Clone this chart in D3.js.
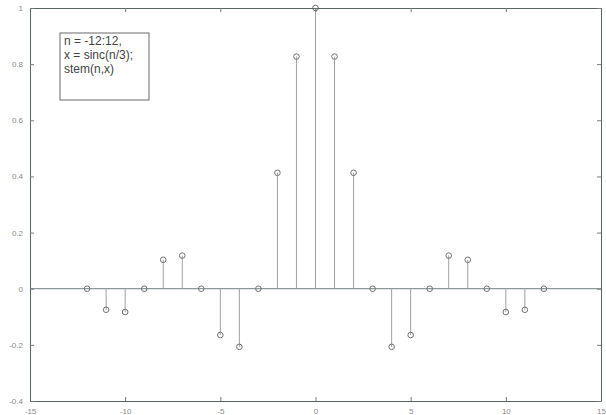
<!DOCTYPE html>
<html lang="en">
<head>
<meta charset="UTF-8">
<title>stem sinc</title>
<script src="https://d3js.org/d3.v7.min.js"></script>
<style>
  body { margin: 0; background: #fff; }
  .tick text { font-family: "Liberation Sans", Arial, sans-serif; font-size: 8px; fill: #8a8a8a; }
</style>
</head>
<body>
<div id="chart"></div>
<script>
// n = -12:12, x = sinc(n/3) values
const nValues = [-12, -11, -10, -9, -8, -7, -6, -5, -4, -3, -2, -1, 0,
                 1, 2, 3, 4, 5, 6, 7, 8, 9, 10, 11, 12];
const xValues = [0, -0.075, -0.083, 0, 0.103, 0.118, 0, -0.165, -0.207, 0, 0.413, 0.827, 1,
                 0.827, 0.413, 0, -0.207, -0.165, 0, 0.118, 0.103, 0, -0.083, -0.075, 0];
const xTicks = [-15, -10, -5, 0, 5, 10, 15];
const yTicks = [-0.4, -0.2, 0, 0.2, 0.4, 0.6, 0.8, 1];
const noteLines = ["n = -12:12,", "x = sinc(n/3);", "stem(n,x)"];

const W = 606, H = 415;
const mLeft = 30, mRight = 601, mTop = 8, mBottom = 401;

const x = d3.scaleLinear().domain([-15, 15]).range([mLeft, mRight]);
const y = d3.scaleLinear().domain([-0.4, 1]).range([mBottom, mTop]);

const svg = d3.select("#chart").append("svg")
    .attr("width", W).attr("height", H);

const data = nValues.map((n, i) => ({ n: n, v: xValues[i] }));

// baseline
svg.append("line")
    .attr("x1", x(-15)).attr("x2", x(15))
    .attr("y1", y(0)).attr("y2", y(0))
    .attr("stroke", "#6f7f80").attr("stroke-width", 1);

// stems
svg.append("g").selectAll("line")
    .data(data)
    .enter()
    .append("line")
    .attr("x1", d => x(d.n)).attr("x2", d => x(d.n))
    .attr("y1", y(0)).attr("y2", d => y(d.v))
    .attr("stroke", "#a0a0a0").attr("stroke-width", 1);

svg.append("g").selectAll("circle")
    .data(data)
    .enter()
    .append("circle")
    .attr("cx", d => x(d.n))
    .attr("cy", d => y(d.v))
    .attr("r", 2.8)
    .attr("fill", "none")
    .attr("stroke", "#707070")
    .attr("stroke-width", 1);

// axes (box with inward ticks)
const hyphen = s => String(s).replace("\u2212", "-");
svg.append("g").attr("transform", "translate(0," + mBottom + ")")
    .call(d3.axisBottom(x).tickValues(xTicks).tickSizeInner(-4).tickSizeOuter(0).tickPadding(7)
        .tickFormat(d => hyphen(d3.format("d")(d))));
svg.append("g").attr("transform", "translate(0," + mTop + ")")
    .call(d3.axisTop(x).tickValues(xTicks).tickSizeInner(-4).tickSizeOuter(0).tickFormat(""));
svg.append("g").attr("transform", "translate(" + mLeft + ",0)")
    .call(d3.axisLeft(y).tickValues(yTicks).tickSizeInner(-4).tickSizeOuter(0).tickPadding(7)
        .tickFormat(d => hyphen(+d.toFixed(1))));
svg.append("g").attr("transform", "translate(" + mRight + ",0)")
    .call(d3.axisRight(y).tickValues(yTicks).tickSizeInner(-4).tickSizeOuter(0).tickFormat(""));

svg.selectAll(".domain").attr("stroke", "#5a6566");
svg.selectAll(".tick line").attr("stroke", "#7a7a7a");

// note box
const note = svg.append("g").attr("transform", "translate(60,33)");
note.append("rect")
    .attr("width", 89).attr("height", 67)
    .attr("fill", "#fff").attr("stroke", "#6a6a6a").attr("stroke-width", 1);
note.selectAll("text")
    .data(noteLines)
    .enter()
    .append("text")
    .attr("x", 4)
    .attr("y", (d, i) => 12 + i * 14)
    .attr("font-family", "Liberation Sans, Arial, sans-serif")
    .attr("font-size", "12px")
    .attr("fill", "#444")
    .text(d => d);
</script>
</body>
</html>
